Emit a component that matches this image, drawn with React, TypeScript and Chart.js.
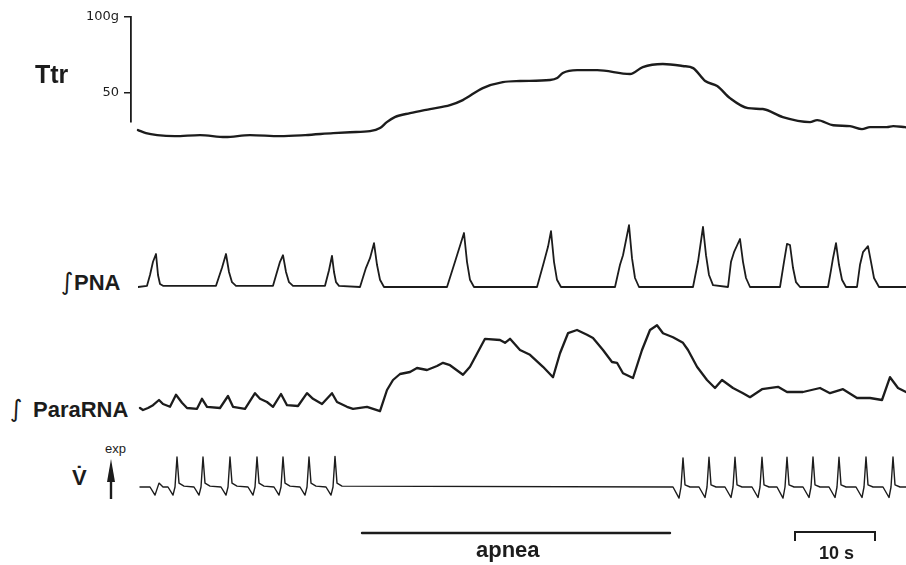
import React, { useEffect, useRef } from "react";
import { Chart, registerables } from "chart.js";

Chart.register(...registerables);

// ---------- time axis (seconds) ----------
const timeStart = 0;
const timeEnd = 96;

// ---------- Ttr (g) ----------
const ttrTicks = [50, 100];
const ttrTime = [0, 1, 2.4, 4.6, 7.75, 10.9, 14, 17.75, 20.9, 24.4, 26.5, 29, 30.25, 31.1, 32.1, 34, 36.5, 39, 40.6, 43.1, 45.6, 47.75, 51.5, 52.4, 53.1, 54.9, 57.4, 61.5, 63.1, 65.6, 68.1, 69.4, 70.9, 72.4, 74, 76.25, 78.1, 80.6, 84, 84.9, 86.9, 89, 90.5, 91.5, 93.6, 94.4, 95.9];
const ttrGrams = [25.7, 23.7, 22.4, 21.7, 22.4, 21.1, 22.4, 21.7, 22.4, 23.7, 24.3, 25.0, 27.0, 30.9, 34.2, 36.8, 39.5, 42.1, 45.4, 53.3, 57.2, 57.9, 58.6, 59.9, 63.2, 65.1, 65.1, 62.5, 67.1, 69.1, 67.8, 66.4, 57.9, 54.6, 46.7, 40.1, 39.5, 34.2, 30.9, 32.2, 28.9, 28.3, 26.3, 27.6, 27.6, 28.3, 27.6];

// ---------- integrated phrenic nerve activity (a.u.) ----------
const pnaTime = [
  0, 1.125, 1.5, 1.875, 2.25, 2.5, 2.75, 3.125,
  9.75, 10.5, 11, 11.375, 11.75, 12.25,
  16.875, 17.375, 17.75, 18.125, 18.5, 18.875, 19.375,
  23.375, 23.875, 24.25, 24.5, 24.75, 25.125,
  27.75, 28.5, 29, 29.5, 29.875, 30.25, 30.75,
  38.625, 39.625, 40.75, 41.125, 41.5, 42,
  49.875, 50.75, 51.25, 51.625, 52, 52.375, 52.875,
  59.625, 60.25, 60.625, 61.375, 61.75, 62.125, 62.625,
  69.375, 70, 70.625, 71, 71.375, 71.875,
  73.75, 74.125, 74.5, 75.25, 75.625, 76, 76.5,
  80.25, 80.75, 81.125, 81.5, 81.875, 82.25, 82.75,
  86.25, 86.625, 86.875, 87.25, 87.625, 88, 88.5,
  89.875, 90.25, 90.625, 91.25, 91.625, 92, 92.625,
  96,
];
const pnaValue = [
  0, 0.02, 0.2, 0.42, 0.55, 0.2, 0.05, 0.02,
  0.02, 0.32, 0.55, 0.25, 0.08, 0.02,
  0.02, 0.25, 0.42, 0.53, 0.25, 0.08, 0.02,
  0.02, 0.28, 0.52, 0.25, 0.08, 0.02,
  0, 0.32, 0.48, 0.73, 0.37, 0.12, 0,
  0, 0.42, 0.9, 0.42, 0.12, 0,
  0, 0.42, 0.67, 0.93, 0.42, 0.12, 0,
  0, 0.37, 0.53, 1.03, 0.48, 0.15, 0,
  0, 0.42, 1.0, 0.53, 0.2, 0.03,
  0, 0.42, 0.58, 0.8, 0.42, 0.15, 0,
  0, 0.42, 0.72, 0.7, 0.32, 0.08, 0,
  0, 0.28, 0.48, 0.73, 0.37, 0.12, 0,
  0, 0.37, 0.58, 0.68, 0.42, 0.15, 0,
  0,
];

// ---------- integrated parasternal activity (a.u.) ----------
const paraTime = [0.25, 0.625, 1.25, 1.875, 2.625, 3.125, 4, 4.75, 5.5, 6.125, 7.375, 8, 8.625, 10.25, 11.25, 11.875, 13.375, 14.625, 15.25, 16.125, 16.875, 17.875, 18.625, 20, 21.125, 21.875, 23, 24.25, 24.875, 26.125, 26.875, 28.625, 30.25, 31.125, 31.875, 32.75, 34, 34.875, 36.125, 37.375, 38.125, 39, 40.625, 41.5, 43.375, 45.25, 45.875, 46.5, 47.75, 49, 50.625, 51.875, 52.75, 53.75, 54.875, 56.125, 56.875, 58.125, 59.25, 59.875, 60.625, 61.875, 63, 64, 64.875, 65.625, 66.875, 68.125, 68.75, 69.875, 71.125, 72.125, 73, 74.375, 75.625, 76.5, 78, 80, 81.125, 83.125, 85.25, 86.5, 88.125, 89.875, 91.5, 93, 94, 95, 96];
const paraValue = [0.05, 0, 0.05, 0.12, 0.25, 0.15, 0.08, 0.38, 0.18, 0.05, 0.03, 0.28, 0.08, 0.05, 0.35, 0.08, 0.03, 0.42, 0.28, 0.2, 0.08, 0.4, 0.12, 0.1, 0.42, 0.28, 0.15, 0.42, 0.2, 0.08, 0.03, 0.08, -0.03, 0.5, 0.75, 0.9, 0.95, 1.05, 1.0, 1.1, 1.18, 1.12, 0.88, 1.08, 1.78, 1.75, 1.68, 1.78, 1.5, 1.38, 1.08, 0.82, 1.42, 1.92, 2.0, 1.88, 1.8, 1.5, 1.2, 1.18, 0.92, 0.8, 1.5, 2.0, 2.12, 1.92, 1.82, 1.68, 1.5, 1.08, 0.75, 0.55, 0.75, 0.55, 0.42, 0.32, 0.52, 0.58, 0.45, 0.45, 0.55, 0.42, 0.52, 0.3, 0.3, 0.25, 0.82, 0.55, 0.45];

// ---------- airflow V̇ (a.u., expiration up) ----------
const ventTime = [
  0.25, 1.5, 2.125, 2.625, 3.125,
  3.75, 4.375, 4.625, 4.875, 5.125, 5.75,
  7, 7.625, 7.875, 8.125, 8.375, 9,
  10.375, 11, 11.25, 11.5, 11.75, 12.375,
  13.75, 14.375, 14.625, 14.875, 15.125, 15.75,
  17, 17.625, 17.875, 18.125, 18.375, 19,
  20.25, 20.875, 21.125, 21.375, 21.625, 22.25,
  23.5, 24.125, 24.375, 24.625, 24.875, 25.5,
  66.875, 67.625, 67.875, 68.125, 68.375, 69,
  70.125, 70.875, 71.125, 71.375, 71.625, 72.25,
  73.375, 74.125, 74.375, 74.625, 74.875, 75.5,
  76.75, 77.5, 77.75, 78, 78.25, 78.875,
  79.875, 80.625, 80.875, 81.125, 81.375, 82,
  83.125, 83.875, 84.125, 84.375, 84.625, 85.25,
  86.375, 87.125, 87.375, 87.625, 87.875, 88.5,
  89.75, 90.5, 90.75, 91, 91.25, 91.875,
  93.125, 93.875, 94.125, 94.375, 94.625, 95.25,
  96,
];
const ventFlow = [
  0, 0, -0.27, 0.13, 0,
  0, -0.27, 0, 1.0, 0.13, 0.03,
  0, -0.27, 0, 1.0, 0.13, 0.03,
  0, -0.27, 0, 1.0, 0.13, 0.03,
  0, -0.27, 0, 1.0, 0.13, 0.03,
  0, -0.27, 0, 1.0, 0.13, 0.03,
  0, -0.27, 0, 1.0, 0.13, 0.03,
  0, -0.27, 0, 1.02, 0.13, 0.03,
  0, -0.37, 0, 0.97, 0.07, 0,
  0, -0.35, 0, 0.99, 0.07, 0,
  0, -0.35, 0, 0.99, 0.07, 0,
  0, -0.35, 0, 0.99, 0.07, 0,
  0, -0.37, 0, 0.99, 0.07, 0,
  0, -0.35, 0, 1.0, 0.07, 0,
  0, -0.35, 0, 0.99, 0.07, 0,
  0, -0.35, 0, 1.0, 0.07, 0,
  0, -0.35, 0, 1.0, 0.07, 0,
  0,
];

// ---------- time annotations (s) ----------
const apneaStart = 28;
const apneaEnd = 66.5;
const scaleBarStart = 82.125;
const scaleBarLength = 10;

const INK = "#1c1c1c";

const zip = (xs: number[], ys: number[]) => xs.map((x, i) => ({ x, y: ys[i] }));

function lineConfig(datasets: any[], xMin: number, xMax: number, yMin: number, yMax: number, yExtra: any = {}, padding: any = 0): any {
  return {
    type: "line",
    data: { datasets },
    options: {
      responsive: false,
      maintainAspectRatio: false,
      animation: false,
      devicePixelRatio: 1,
      events: [],
      layout: { padding },
      plugins: { legend: { display: false }, tooltip: { enabled: false } },
      elements: {
        point: { radius: 0 },
        line: { tension: 0, borderJoinStyle: "round", borderCapStyle: "round" },
      },
      scales: {
        x: { type: "linear", min: xMin, max: xMax, display: false },
        y: { type: "linear", min: yMin, max: yMax, display: false, ...yExtra },
      },
    },
  };
}

function trace(data: { x: number; y: number }[], width: number, extra: any = {}) {
  return { data, borderColor: INK, borderWidth: width, fill: false, clip: false, pointRadius: 0, ...extra };
}

function ChartCanvas({ left, top, width, height, config }: { left: number; top: number; width: number; height: number; config: () => any }) {
  const ref = useRef<HTMLCanvasElement>(null);
  useEffect(() => {
    const chart = new Chart(ref.current as HTMLCanvasElement, config());
    return () => chart.destroy();
  }, []);
  return (
    <canvas
      ref={ref}
      width={width}
      height={height}
      style={{ position: "absolute", left, top, width, height }}
    />
  );
}

const font = "'Liberation Sans', Arial, Helvetica, sans-serif";

function Label({ text, left, baseline, size, bold = true, family = font }: { text: string; left: number; baseline: number; size: number; bold?: boolean; family?: string }) {
  return (
    <div
      style={{
        position: "absolute",
        left,
        top: baseline - 0.8465 * size,
        fontFamily: family,
        fontWeight: bold ? 700 : 400,
        fontSize: size,
        lineHeight: 1,
        whiteSpace: "nowrap",
        color: INK,
      }}
    >
      {text}
    </div>
  );
}

export default function App() {
  const ttrConfig = () =>
    lineConfig(
      [trace(zip(ttrTime, ttrGrams), 2.4, { cubicInterpolationMode: "monotone" })],
      -0.875,
      timeEnd,
      31,
      100,
      {
        display: true,
        afterBuildTicks: (scale: any) => {
          scale.ticks = ttrTicks.map((v) => ({ value: v }));
        },
        afterFit: (scale: any) => {
          scale.width = 131;
        },
        ticks: {
          callback: (v: number) => (v === 100 ? "100g" : String(v)),
          font: { family: "'DejaVu Sans', sans-serif", size: 13 },
          color: INK,
          padding: 5,
        },
        grid: { drawOnChartArea: false, drawTicks: true, tickLength: 7, color: INK, lineWidth: 1.5 },
        border: { display: true, color: INK, width: 1.8 },
      },
      { top: 17, bottom: 28, left: 0, right: 0 }
    );

  const pnaConfig = () => lineConfig([trace(zip(pnaTime, pnaValue), 1.8)], timeStart, timeEnd, -0.1, 1.2);
  const paraConfig = () => lineConfig([trace(zip(paraTime, paraValue), 2.3)], timeStart, timeEnd, -0.25, 2.375);
  const ventConfig = () => lineConfig([trace(zip(ventTime, ventFlow), 1.4)], timeStart, timeEnd, -0.6, 1.4);
  const barConfig = () =>
    lineConfig(
      [
        trace([{ x: apneaStart, y: 1.7 }, { x: apneaEnd, y: 1.7 }], 2.4),
        trace(
          [
            { x: scaleBarStart, y: 0.9 },
            { x: scaleBarStart, y: 1.8 },
            { x: scaleBarStart + scaleBarLength, y: 1.8 },
            { x: scaleBarStart + scaleBarLength, y: 0.9 },
          ],
          2,
          { borderJoinStyle: "miter", borderCapStyle: "butt" }
        ),
      ],
      timeStart,
      timeEnd,
      0,
      3
    );

  return (
    <div style={{ position: "absolute", left: 0, top: 0, width: 906, height: 565, background: "#fff", overflow: "hidden" }}>
      <ChartCanvas left={0} top={0} width={906} height={150} config={ttrConfig} />
      <ChartCanvas left={138} top={215} width={768} height={78} config={pnaConfig} />
      <ChartCanvas left={138} top={315} width={768} height={105} config={paraConfig} />
      <ChartCanvas left={138} top={445} width={768} height={60} config={ventConfig} />
      <ChartCanvas left={138} top={520} width={768} height={30} config={barConfig} />

      <Label text="Ttr" left={35} baseline={83} size={25} />
      <Label text="∫" left={61} baseline={290} size={24} bold={false} family="'DejaVu Sans', sans-serif" />
      <Label text="PNA" left={74} baseline={291} size={22} />
      <Label text="∫" left={10} baseline={417} size={24} bold={false} family="'DejaVu Sans', sans-serif" />
      <Label text="ParaRNA" left={33} baseline={418} size={22} />
      <Label text={"V\u0307"} left={72} baseline={486} size={22} />
      <Label text="exp" left={105} baseline={453} size={13} bold={false} />
      <svg style={{ position: "absolute", left: 104, top: 458 }} width={14} height={42}>
        <polygon points="7,1 3,24 11,24" fill={INK} />
        <line x1={7} y1={20} x2={7} y2={41} stroke={INK} strokeWidth={2.4} />
      </svg>
      <Label text="apnea" left={476} baseline={558} size={22} />
      <Label text="10 s" left={819} baseline={559} size={18} />
    </div>
  );
}
